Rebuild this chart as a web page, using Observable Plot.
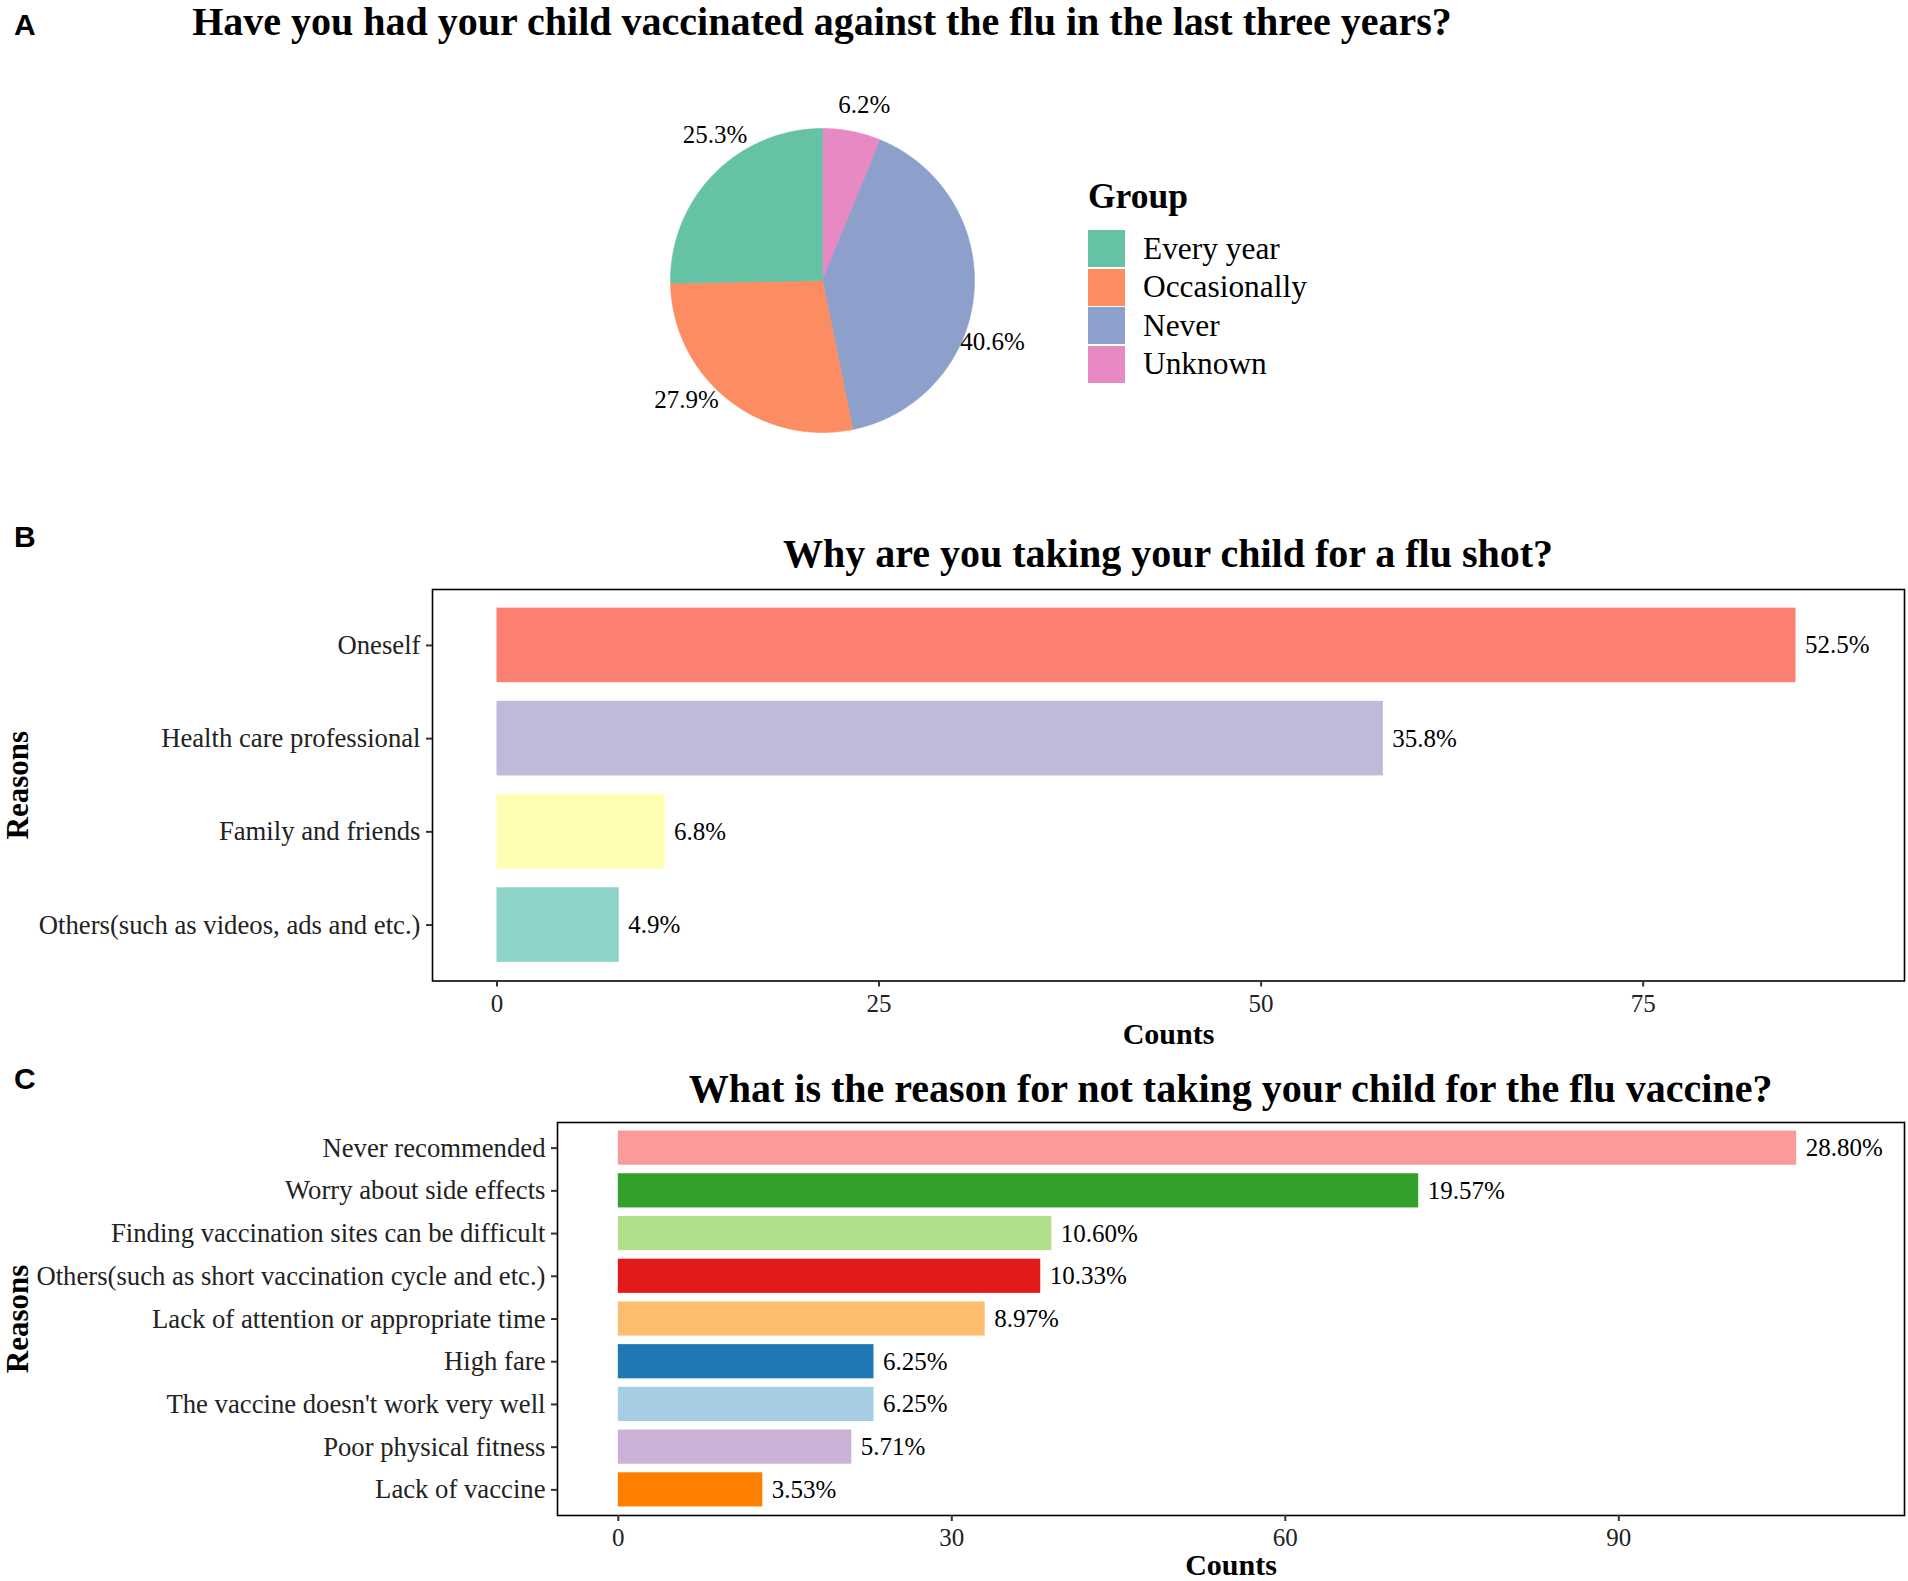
<!DOCTYPE html>
<html><head><meta charset="utf-8">
<script src="https://cdn.jsdelivr.net/npm/d3@7"></script>
<script src="https://cdn.jsdelivr.net/npm/@observablehq/plot@0.6"></script>
<style>
body{margin:0;background:#fff;}
#root{position:relative;width:1908px;height:1581px;overflow:hidden;font-family:"Liberation Serif","Times New Roman",serif;color:#000;}
.abs{position:absolute;white-space:nowrap;}
.title{font-weight:bold;font-size:40px;line-height:40px;transform:translateX(-50%);}
.letter{font-family:"Liberation Sans",Arial,sans-serif;font-weight:bold;font-size:30px;line-height:30px;}
.plot{position:absolute;}
</style></head><body><div id="root"></div>
<script>
// ---------- data ----------
const pieGroups = ["Every year", "Occasionally", "Never", "Unknown"];
const piePercents = [25.3, 27.9, 40.6, 6.2];
const pieColors = ["#66C2A5", "#FC8D62", "#8DA0CB", "#E78AC3"];

const reasonsB = ["Oneself", "Health care professional", "Family and friends", "Others(such as videos, ads and etc.)"];
const countsB = [85, 58, 11, 8];
const colorsB = ["#FB8072", "#BEBADA", "#FFFFB3", "#8DD3C7"];
const ticksB = [0, 25, 50, 75];

const reasonsC = ["Never recommended", "Worry about side effects", "Finding vaccination sites can be difficult",
  "Others(such as short vaccination cycle and etc.)", "Lack of attention or appropriate time", "High fare",
  "The vaccine doesn't work very well", "Poor physical fitness", "Lack of vaccine"];
const countsC = [106, 72, 39, 38, 33, 23, 23, 21, 13];
const colorsC = ["#FB9A99", "#33A02C", "#B2DF8A", "#E31A1C", "#FDBF6F", "#1F78B4", "#A6CEE3", "#CAB2D6", "#FF7F00"];
const ticksC = [0, 30, 60, 90];

const titles = {
  A: "Have you had your child vaccinated against the flu in the last three years?",
  B: "Why are you taking your child for a flu shot?",
  C: "What is the reason for not taking your child for the flu vaccine?"
};

const root = document.getElementById("root");
function addDiv(cls, text, left, top) {
  const d = document.createElement("div");
  d.className = "abs " + cls;
  d.textContent = text;
  d.style.left = left + "px";
  d.style.top = top + "px";
  root.appendChild(d);
  return d;
}
function place(el, left, top) {
  el.classList.add("plot");
  el.style.left = left + "px";
  el.style.top = top + "px";
  root.appendChild(el);
}
const baseStyle = {fontFamily: "'Liberation Serif','Times New Roman',serif", background: "none", overflow: "visible", color: "#000"};

// ---------- Panel A: pie ----------
const order = [3, 2, 1, 0]; // clockwise from 12 o'clock
let acc = 0;
const slices = order.map(i => {
  const s = {group: pieGroups[i], pct: piePercents[i], start: acc, end: acc + piePercents[i]};
  acc += piePercents[i];
  return s;
});
const pieTotal = acc;
const TAU = 2 * Math.PI;
const piePts = slices.flatMap(s => {
  const a0 = s.start / pieTotal * TAU, a1 = s.end / pieTotal * TAU;
  const n = Math.max(2, Math.ceil((a1 - a0) / (Math.PI / 360)));
  const pts = [{group: s.group, x: 0, y: 0}];
  for (let k = 0; k <= n; k++) {
    const a = a0 + (a1 - a0) * k / n;
    pts.push({group: s.group, x: Math.sin(a), y: Math.cos(a)});
  }
  pts.push({group: s.group, x: 0, y: 0});
  return pts;
});
const labAngle = s => (s.start + 0.6 * s.pct) / pieTotal * TAU;
const R = 250 / 152;
const pie = Plot.plot({
  width: 500, height: 500, margin: 0,
  x: {domain: [-R, R], axis: null},
  y: {domain: [-R, R], axis: null},
  color: {domain: pieGroups, range: pieColors},
  style: baseStyle,
  marks: [
    Plot.line(piePts, {x: "x", y: "y", z: "group", fill: "group", stroke: "group", strokeWidth: 0.6, curve: "linear"}),
    Plot.text(slices, {x: s => 1.19 * Math.sin(labAngle(s)), y: s => 1.19 * Math.cos(labAngle(s)),
      text: s => s.pct.toFixed(1) + "%", fontSize: 25, fill: "#000"})
  ]
});
place(pie, 572, 29.5);

// legend
addDiv("", "Group", 1088, 178.5).style.cssText += "font-weight:bold;font-size:35.5px;line-height:35.5px;";
pieGroups.forEach((g, i) => {
  const top = 230 + i * 38.5;
  const k = document.createElement("div");
  k.className = "abs";
  k.style.cssText = `left:1088px;top:${top}px;width:37px;height:37px;background:${pieColors[i]};`;
  root.appendChild(k);
  addDiv("", g, 1143, top + 18.5 + 10.4 - 26.3).style.cssText += "font-size:31.4px;line-height:31.4px;";
});

// ---------- bar panel builder ----------
function barPanel({reasons, counts, colors, ticks, digits, xDomain, height, marginLeft, marginBottom, countsDy}) {
  const data = reasons.map((r, i) => ({reason: r, count: counts[i]}));
  const total = d3.sum(counts);
  return Plot.plot({
    width: 1908, height, marginTop: 5, marginLeft, marginRight: 4, marginBottom,
    x: {domain: xDomain},
    y: {domain: reasons, paddingInner: 0.2, paddingOuter: 0.2, round: false},
    color: {domain: reasons, range: colors},
    style: baseStyle,
    marks: [
      Plot.barX(data, {x: "count", y: "reason", fill: "reason"}),
      Plot.text(data, {x: "count", y: "reason", text: d => (d.count / total * 100).toFixed(digits) + "%",
        textAnchor: "start", dx: 9, fontSize: 25, fill: "#000"}),
      Plot.frame({stroke: "#000", strokeWidth: 1.6}),
      Plot.axisX({ticks, tickSize: 6, tickPadding: 7, fontSize: 25, label: null, stroke: "#333", strokeWidth: 2, fill: "#222"}),
      Plot.axisY({tickSize: 6, tickPadding: 6, fontSize: 26.7, label: null, stroke: "#333", strokeWidth: 2, fill: "#222"}),
      Plot.text(["Counts"], {frameAnchor: "bottom", dy: countsDy, fontSize: 30, fontWeight: "bold", fill: "#000"}),
      Plot.text(["Reasons"], {frameAnchor: "left", textAnchor: "middle", dx: 18 - marginLeft, rotate: -90,
        fontSize: 31, fontWeight: "bold", fill: "#000"})
    ]
  });
}

// ---------- Panel B ----------
const plotB = barPanel({reasons: reasonsB, counts: countsB, colors: colorsB, ticks: ticksB, digits: 1,
  xDomain: [-4.22, 92.1], height: 476.5, marginLeft: 432, marginBottom: 80, countsDy: 62.5});
place(plotB, 0, 584);

// ---------- Panel C ----------
const plotC = barPanel({reasons: reasonsC, counts: countsC, colors: colorsC, ticks: ticksC, digits: 2,
  xDomain: [-5.47, 115.7], height: 464, marginLeft: 557, marginBottom: 66, countsDy: 59.5});
place(plotC, 0, 1117);

// ---------- titles and panel letters ----------
addDiv("title", titles.A, 822, 2);
addDiv("title", titles.B, 1168, 533.5);
addDiv("title", titles.C, 1230.6, 1068.5);
addDiv("letter", "A", 14, 9.6);
addDiv("letter", "B", 14, 521.6);
addDiv("letter", "C", 14, 1063.6);
</script></body></html>
